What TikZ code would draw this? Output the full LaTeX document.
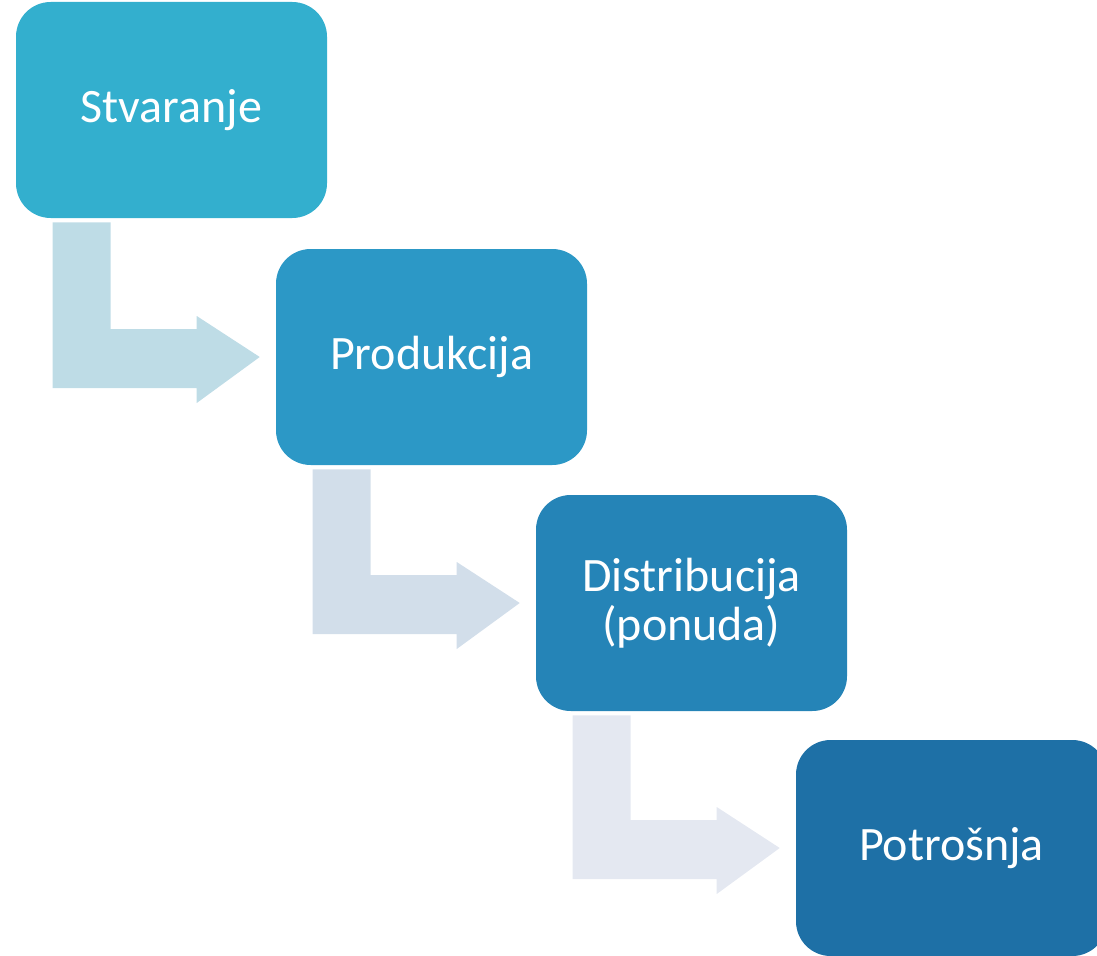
\documentclass[tikz,border=0pt]{standalone}
\usepackage{fontspec}
\setmainfont{Carlito}
\usetikzlibrary{calc,positioning}
\definecolor{stepA}{RGB}{51,175,206}
\definecolor{stepB}{RGB}{44,152,198}
\definecolor{stepC}{RGB}{37,132,183}
\definecolor{stepD}{RGB}{30,112,166}
\definecolor{flowA}{RGB}{190,220,230}
\definecolor{flowB}{RGB}{210,222,234}
\definecolor{flowC}{RGB}{228,232,241}
\begin{document}
\begin{tikzpicture}[
    x=0.75pt, y=-0.75pt,
    stage/.style={rectangle, rounded corners=26pt, inner sep=0pt, minimum width=233.25pt, minimum height=162pt, text=white, align=center, font=\fontsize{36}{37}\selectfont}
]
    \useasboundingbox (0,0) rectangle (1097,956);
    \clip (0,0) rectangle (1097,956);

    \node[stage, fill=stepA] (create) at (171.5,110) {Stvaranje};
    \node[stage, fill=stepB] (produce) at (431.5,357) {Produkcija};
    \node[stage, fill=stepC] (distrib) at (691.5,603) {Distribucija\\(ponuda)};
    \node[stage, fill=stepD] (consume) at (951.5,848) {Potrošnja};

    \foreach \a/\b/\c in {create/produce/flowA, produce/distrib/flowB, distrib/consume/flowC} {
        \path ($(\a.south west)+(37,4)$) coordinate (p)
              ($(\b.west)+(-16,0)$) coordinate (q)
              ($(\b.west)+(-79,31)$) coordinate (qb);
        \fill[\c] (p) -- ++(58,0) |- ($(q)+(-63,-28)$) -- ++(0,-13) -- (q)
            -- ++(-63,46) -- (qb) -- (p |- qb) -- cycle;
    }
\end{tikzpicture}
\end{document}
